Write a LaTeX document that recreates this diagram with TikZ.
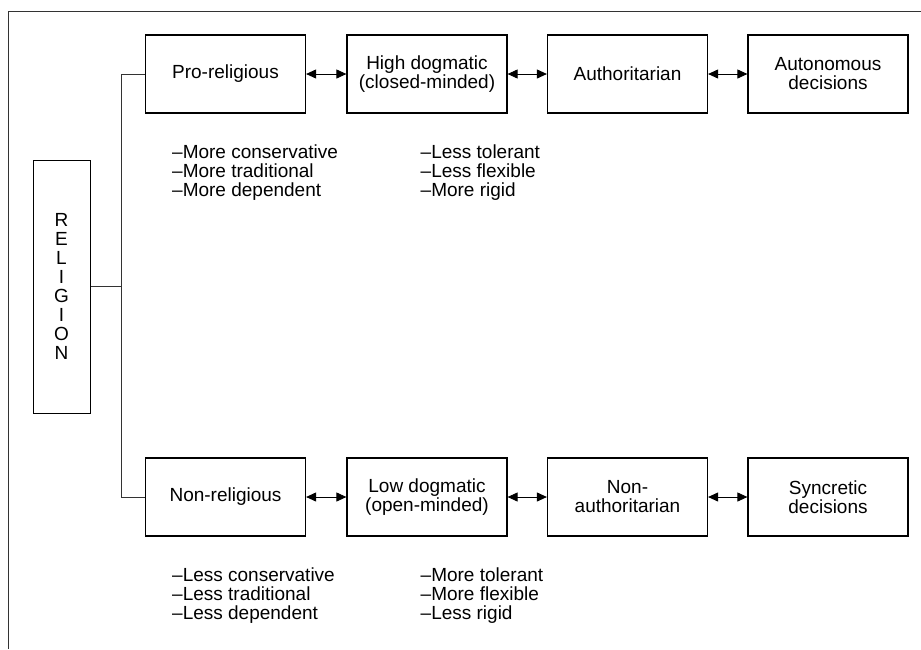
\documentclass[tikz,border=0pt]{standalone}
\usepackage{fontspec}
\setmainfont{Liberation Sans}
\usetikzlibrary{arrows.meta}
\begin{document}
\begin{tikzpicture}[x=1pt,y=-1pt,
  every node/.style={font=\fontsize{19}{19}\selectfont},
  box/.style={draw=black,line width=1.2pt,minimum width=160pt,minimum height=78pt,inner sep=0pt,align=center},
  relbox/.style={draw=black,line width=1pt,minimum width=57pt,minimum height=253pt,inner sep=0pt,align=center},
  list/.style={anchor=west,align=left,inner sep=0pt},
  link/.style={line width=0.9pt,draw=black!80},
  dbl/.style={line width=0.9pt,{Triangle[length=10pt,width=9pt]}-{Triangle[length=10pt,width=9pt]}}
]
\useasboundingbox (0,0) rectangle (921,649);
% frame
\draw[link] (921,11) -- (8,11) -- (8,649);
% religion box
\node[relbox] (rel) at (61.5,286.5) {R\\E\\L\\I\\G\\I\\O\\N};
% top row
\node[box] (a1) at (225.5,74) {Pro-religious};
\node[box] (a2) at (427,74) {High dogmatic\\(closed-minded)};
\node[box] (a3) at (627.5,74) {Authoritarian};
\node[box] (a4) at (828,74) {Autonomous\\decisions};
% bottom row
\node[box] (b1) at (225.5,497) {Non-religious};
\node[box] (b2) at (427,497) {Low dogmatic\\(open-minded)};
\node[box] (b3) at (627.5,497) {Non-\\authoritarian};
\node[box] (b4) at (828,497) {Syncretic\\decisions};
% arrows
\draw[dbl] (a1) -- (a2);
\draw[dbl] (a2) -- (a3);
\draw[dbl] (a3) -- (a4);
\draw[dbl] (b1) -- (b2);
\draw[dbl] (b2) -- (b3);
\draw[dbl] (b3) -- (b4);
% tree connectors
\coordinate (j) at (121,286.5);
\draw[link] (rel.east) -- (j);
\draw[link] (a1.west) -| (j);
\draw[link] (b1.west) -| (j);
% lists
\node[list] (l1) at (172,173) {–More conservative\\–More traditional\\–More dependent};
\node[list] (l2) at (420.5,173) {–Less tolerant\\–Less flexible\\–More rigid};
\node[list] (l3) at (172,596) {–Less conservative\\–Less traditional\\–Less dependent};
\node[list] (l4) at (420.5,596) {–More tolerant\\–More flexible\\–Less rigid};
\end{tikzpicture}
\end{document}
